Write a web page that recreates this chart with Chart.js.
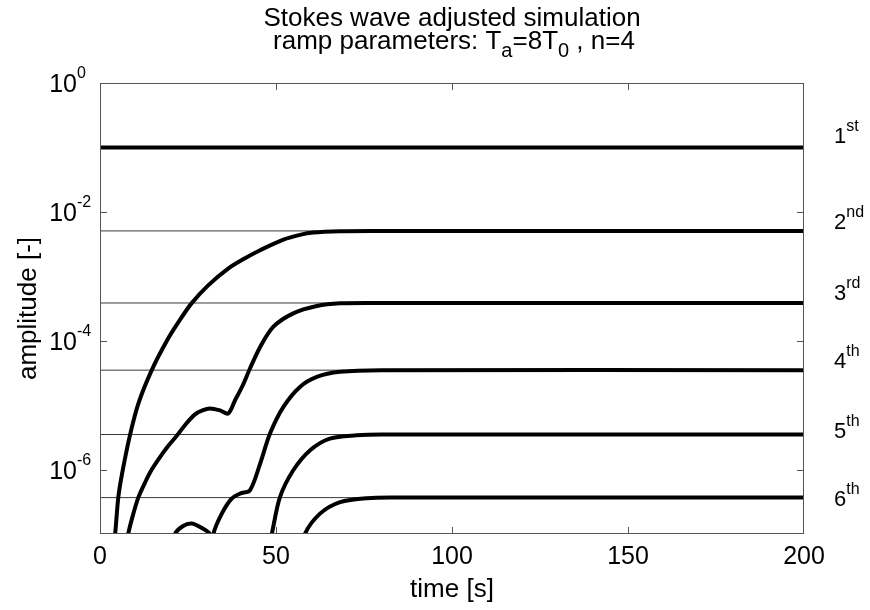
<!DOCTYPE html>
<html>
<head>
<meta charset="utf-8">
<script src="https://cdn.jsdelivr.net/npm/chart.js@4.4.1/dist/chart.umd.min.js"></script>
<style>
  html, body { margin: 0; padding: 0; background: #fff; }
  #wrap { width: 870px; height: 610px; }
</style>
</head>
<body>
<div id="wrap"><canvas id="c" width="870" height="610"></canvas></div>
<script>
// Harmonic amplitudes of the ramped Stokes wave: time [s] and amplitude [-]
const t1 = [0, 200];
const a1 = [0.1, 0.1];

const t2 = [3.8, 4.3, 5.2, 6.3, 8.5, 10.9, 14.7, 19.0, 22.7, 26.0, 30.8, 36.5, 41.2, 45.5, 52.1, 56.8, 60.6, 68.2, 77, 200];
const a2 = [6.6e-8, 1.0e-7, 3.7e-7, 8.8e-7, 3.4e-6, 1.06e-5, 3.5e-5, 1.0e-4, 2.1e-4, 3.8e-4, 7.3e-4, 1.33e-3, 1.91e-3, 2.54e-3, 3.7e-3, 4.4e-3, 4.78e-3, 5.01e-3, 5.06e-3, 5.06e-3];

const t3 = [7.0, 8.0, 9.4, 10.9, 12.8, 14.7, 17.0, 19.3, 21.8, 24.4, 27.0, 29.1, 31.2, 34.1, 36.4, 38.4, 40.5, 42.6, 45.5, 49.2, 54.9, 61.6, 68.2, 80, 200];
const a3 = [5e-8, 1.0e-7, 2.0e-7, 3.7e-7, 6.3e-7, 1.0e-6, 1.55e-6, 2.3e-6, 3.35e-6, 5.1e-6, 7.2e-6, 8.3e-6, 8.9e-6, 8.3e-6, 7.4e-6, 1.2e-5, 2.0e-5, 3.7e-5, 8.0e-5, 1.64e-4, 2.66e-4, 3.45e-4, 3.8e-4, 3.85e-4, 3.85e-4];

const t4 = [20.0, 21.3, 23.5, 26.0, 28.7, 31.2, 31.8, 32.2, 34.6, 37.4, 39.8, 42.6, 45.5, 48.3, 52.1, 56.8, 61.6, 68.2, 80, 200];
const a4 = [5e-8, 1.0e-7, 1.32e-7, 1.45e-7, 1.26e-7, 1.0e-7, 5e-8, 1.0e-7, 2.07e-7, 3.54e-7, 4.24e-7, 4.77e-7, 1.24e-6, 3.62e-6, 9.4e-6, 1.92e-5, 2.75e-5, 3.29e-5, 3.49e-5, 3.49e-5];

const t5 = [47.5, 48.8, 51.1, 54.9, 59.7, 65.3, 72.9, 80, 200];
const a5 = [5e-8, 1.0e-7, 3.7e-7, 9.75e-7, 2.0e-6, 3.03e-6, 3.4e-6, 3.5e-6, 3.5e-6];

const t6 = [56.5, 58.2, 62.5, 68.2, 75.8, 85, 200];
const a6 = [4e-8, 1.0e-7, 2.07e-7, 3.13e-7, 3.6e-7, 3.67e-7, 3.67e-7];

// steady-state amplitudes of harmonics 2..6 (thin reference lines)
const steady = [5.06e-3, 3.85e-4, 3.49e-5, 3.5e-6, 3.67e-7];

// axis ticks
const xTicks = [0, 50, 100, 150, 200];
const yTickExp = [0, -2, -4, -6];

// harmonic order labels at the right margin
const orderBase = ['1', '2', '3', '4', '5', '6'];
const orderSup = ['st', 'nd', 'rd', 'th', 'th', 'th'];
const orderLabelAmp = [0.157, 7.1e-3, 5.8e-4, 5.0e-5, 4.1e-6, 3.6e-7];

const FONT = '"Liberation Sans", Arial, Helvetica, sans-serif';

function pts(t, a) { return t.map((x, i) => ({ x: x, y: a[i] })); }

const thick = (t, a) => ({
  data: pts(t, a), borderColor: '#000', borderWidth: 4, pointRadius: 0,
  tension: 0.3, clip: 0, order: 0
});
const thin = v => ({
  data: pts([0, 200], [v, v]), borderColor: '#3a3a3a', borderWidth: 1, pointRadius: 0,
  clip: 0, order: 1
});

function rich(ctx, parts, x, y, align) {
  let w = 0;
  parts.forEach(p => { ctx.font = p[1] + 'px ' + FONT; w += ctx.measureText(p[0]).width; });
  let cx = align === 'center' ? x - w / 2 : (align === 'right' ? x - w : x);
  ctx.textAlign = 'left';
  ctx.textBaseline = 'alphabetic';
  parts.forEach(p => {
    ctx.font = p[1] + 'px ' + FONT;
    ctx.fillText(p[0], cx, y + p[2]);
    cx += ctx.measureText(p[0]).width;
  });
}

const decor = {
  id: 'decor',
  afterDraw(chart) {
    const ctx = chart.ctx;
    const a = chart.chartArea;
    const xs = chart.scales.x, ys = chart.scales.y;
    ctx.save();
    // frame and inward ticks
    ctx.strokeStyle = '#555';
    ctx.lineWidth = 1;
    ctx.strokeRect(a.left + 0.5, a.top + 0.5, a.right - a.left - 1, a.bottom - a.top - 1);
    ctx.beginPath();
    xTicks.slice(1, -1).forEach(v => {
      const px = Math.round(xs.getPixelForValue(v)) + 0.5;
      ctx.moveTo(px, a.bottom); ctx.lineTo(px, a.bottom - 7);
      ctx.moveTo(px, a.top); ctx.lineTo(px, a.top + 7);
    });
    yTickExp.slice(1).forEach(e => {
      const py = Math.round(ys.getPixelForValue(Math.pow(10, e))) + 0.5;
      ctx.moveTo(a.left, py); ctx.lineTo(a.left + 7, py);
      ctx.moveTo(a.right, py); ctx.lineTo(a.right - 7, py);
    });
    ctx.stroke();

    ctx.fillStyle = '#000';
    // y tick labels 10^n
    yTickExp.forEach(e => {
      const py = ys.getPixelForValue(Math.pow(10, e));
      ctx.font = '25px ' + FONT;
      ctx.textAlign = 'right';
      ctx.textBaseline = 'alphabetic';
      ctx.fillText('10', a.left - 23, py + 9);
      ctx.font = '16px ' + FONT;
      ctx.textAlign = 'left';
      ctx.fillText(String(e), a.left - 23, py - 5);
    });

    // order labels
    orderBase.forEach((b, i) => {
      const py = ys.getPixelForValue(orderLabelAmp[i]);
      rich(ctx, [[b, 22, 0], [orderSup[i], 16, -12]], a.right + 30, py + 8, 'left');
    });

    // title
    const cx = (a.left + a.right) / 2;
    rich(ctx, [['Stokes wave adjusted simulation', 26, 0]], cx, 26, 'center');
    rich(ctx, [['ramp parameters: T', 26, 0], ['a', 20, 8], ['=8T', 26, 0], ['0', 20, 8], [' , n=4', 26, 0]], cx + 2, 49, 'center');
    ctx.restore();
  }
};

new Chart(document.getElementById('c'), {
  type: 'line',
  data: {
    datasets: [
      thick(t1, a1), thick(t2, a2), thick(t3, a3), thick(t4, a4), thick(t5, a5), thick(t6, a6),
      ...steady.map(thin)
    ]
  },
  options: {
    responsive: false,
    devicePixelRatio: 1,
    animation: false,
    events: [],
    layout: { padding: { top: 83, right: 66, left: 0, bottom: 0 } },
    plugins: { legend: { display: false }, tooltip: { enabled: false }, title: { display: false } },
    scales: {
      x: {
        type: 'linear', min: 0, max: 200,
        afterBuildTicks: s => { s.ticks = xTicks.map(v => ({ value: v })); },
        afterFit: s => { s.height = 76; },
        grid: { display: false, drawTicks: false },
        border: { display: false },
        ticks: { color: '#000', padding: 8, font: { family: FONT, size: 25 }, maxRotation: 0 },
        title: { display: true, text: 'time [s]', color: '#000', font: { family: FONT, size: 26 }, padding: { top: 0, bottom: 5 } }
      },
      y: {
        type: 'logarithmic', min: 1e-7, max: 1,
        afterFit: s => { s.width = 100; },
        grid: { display: false, drawTicks: false },
        border: { display: false },
        ticks: { display: false },
        title: { display: true, text: 'amplitude [-]', color: '#000', font: { family: FONT, size: 26 }, padding: { top: 13, bottom: 0 } }
      }
    }
  },
  plugins: [decor]
});
</script>
</body>
</html>
